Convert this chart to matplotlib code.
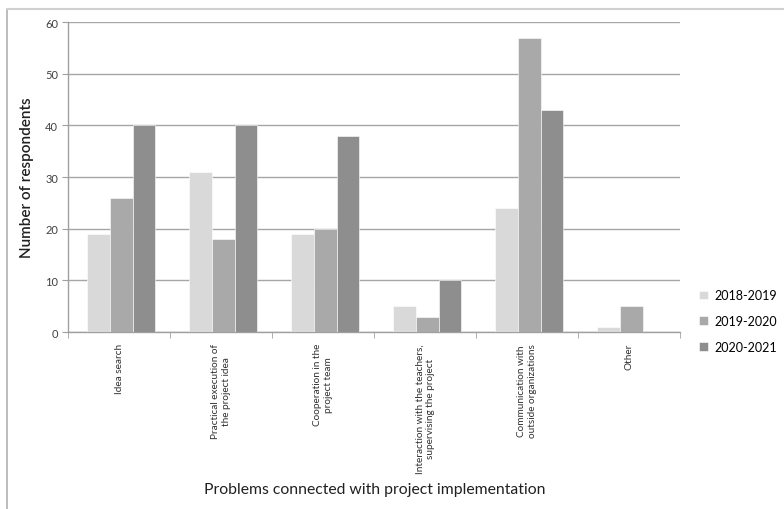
import numpy as np
import matplotlib
matplotlib.use("Agg")
import matplotlib.pyplot as plt
from matplotlib.lines import Line2D

# data
categories = ["Idea search",
              "Practical execution of\nthe project idea",
              "Cooperation in the\nproject team",
              "Interaction with the teachers,\nsupervising the project",
              "Communication with\noutside organizations",
              "Other"]
years = ["2018-2019", "2019-2020", "2020-2021"]
v2018 = [19, 31, 19, 5, 24, 1]
v2019 = [26, 18, 20, 3, 57, 5]
v2020 = [40, 40, 38, 10, 43, 0]
series = [v2018, v2019, v2020]
colors = ["#d9d9d9", "#a9a9a9", "#8e8e8e"]

plt.rcParams['font.family'] = ['Lato', 'DejaVu Sans']

fig = plt.figure(figsize=(7.84, 5.10), dpi=100)
ax = fig.add_axes([68/784, 1-333/510, (680-68)/784, (333-23)/510])

x = np.arange(len(categories))
bw = 0.225
for i, (vals, c) in enumerate(zip(series, colors)):
   ax.bar(x + (i-1)*bw + 0.02, vals, width=bw, color=c, edgecolor="white", linewidth=0.4,
          label=years[i], zorder=3)

ax.set_xlim(-0.5, len(categories)-0.5)
ax.set_ylim(0, 60)
ax.set_yticks(range(0, 61, 10))
ax.tick_params(axis='y', labelsize=8, length=4, color="#a0a0a0", pad=3, labelcolor="#404040")
ax.yaxis.grid(True, color="#a6a6a6", linewidth=1.0, zorder=0)

ax.set_xticks(x)
ax.set_xticklabels(categories, rotation=90, fontsize=7.2, va='top', ha='center',
                   multialignment='center', color="#303030")
ax.tick_params(axis='x', which='major', length=0, pad=8)
ax.set_xticks(np.arange(-0.5, len(categories), 1.0), minor=True)
ax.tick_params(axis='x', which='minor', length=4, color="#a0a0a0")

for s in ["top", "right"]:
   ax.spines[s].set_visible(False)
for s in ["left", "bottom"]:
   ax.spines[s].set_color("#a0a0a0")
   ax.spines[s].set_linewidth(1.0)

ax.set_ylabel("Number of respondents", fontsize=11, fontweight='semibold', color="#202020", labelpad=8)
fig.text(375/784, 1-490/510, "Problems connected with project implementation",
         fontsize=11.3, ha='center', va='center', color="#202020")

fig.legend(loc='center left', bbox_to_anchor=(688/784, 1-322/510), frameon=False,
           fontsize=9, handlelength=0.7, handleheight=0.7, handletextpad=0.5,
           labelspacing=1.1)

# outer chart border (left and top edges visible)
fig.add_artist(Line2D([7/784, 7/784], [0, 1-10/510], transform=fig.transFigure,
                      color="#b0b0b0", linewidth=1.2))
fig.add_artist(Line2D([7/784, 1], [1-10/510, 1-10/510], transform=fig.transFigure,
                      color="#d0d0d0", linewidth=1.5))

fig.savefig("out.png", dpi=100)
